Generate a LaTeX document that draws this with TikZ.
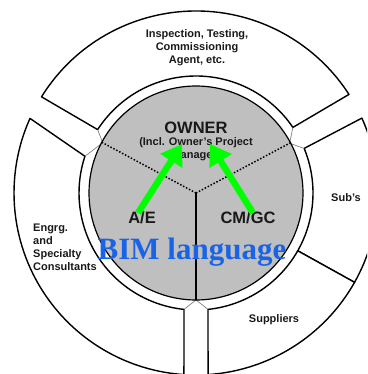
\documentclass[tikz,border=0pt]{standalone}
\usepackage{fontspec}
\setmainfont{Liberation Sans}
\newfontfamily\bimserif{Liberation Serif}
\usetikzlibrary{arrows.meta}
\definecolor{discgray}{gray}{0.75}
\definecolor{bimblue}{RGB}{25,100,230}
\definecolor{arrgreen}{RGB}{0,255,0}
\begin{document}
\begin{tikzpicture}[x=1pt,y=1pt,
  seg/.style={draw=black, line width=1.4pt, fill=white, line join=round},
  vline/.style={draw=black!55, line width=0.6pt},
  dotline/.style={draw=black, line width=1.5pt, dash pattern=on 1.5pt off 1.8pt},
  lab/.style={font=\bfseries\fontsize{11}{13}\selectfont, align=center, inner sep=0pt, text=black!90},
  big/.style={font=\bfseries\fontsize{16.5}{19}\selectfont, inner sep=0pt, text=black!90},
  garrow/.style={draw=arrgreen, line width=6.5pt, -{Triangle[length=20pt,width=25pt]}},
]
\useasboundingbox (0,0) rectangle (367,374);
\clip (0,0) rectangle (367,374);
\fill[white] (0,0) rectangle (367,374);
\coordinate (C) at (196,181);
\begin{scope}[shift={(196,181)}]
  % outer segments
  \path[seg] (147.2:117pt) -- (148.1:182pt) arc[start angle=148.1, end angle=32.8, radius=182pt]
     -- (34.1:117pt) arc[start angle=34.1, end angle=147.2, radius=117pt] -- cycle;
  \path[seg] (22.4:117pt) -- (24.3:182pt) arc[start angle=24.3, end angle=-29.4, radius=182pt]
     -- (-29.6:117pt) arc[start angle=-29.6, end angle=22.4, radius=117pt] -- cycle;
  \path[seg] (-29.6:117pt) -- (-29.4:182pt) arc[start angle=-29.4, end angle=-86.2, radius=182pt]
     -- (-84.1:117pt) arc[start angle=-84.1, end angle=-29.6, radius=117pt] -- cycle;
  \path[seg] (161.7:117pt) -- (155.8:182pt) arc[start angle=155.8, end angle=266.2, radius=182pt]
     -- (264.1:117pt) arc[start angle=264.1, end angle=161.7, radius=117pt] -- cycle;
  % gap lines
  \draw[vline] (147.2:117pt) -- (151.7:106pt) -- (161.7:117pt);
  \draw[vline] (34.1:117pt) -- (28:106pt) -- (22.4:117pt);
  \draw[vline] (264.1:117pt) -- (270:107pt) -- (275.9:117pt);
  % central disc
  \draw[fill=discgray, line width=1.2pt] (0,0) circle[radius=107pt];
  \coordinate (dl) at (151.7:107pt);
  \coordinate (dr) at (28:107pt);
  \coordinate (db) at (270:107pt);
  \draw[dotline] (0,0) -- (dl);
  \draw[dotline] (0,0) -- (dr);
  \draw[line width=1.6pt] (0,0) -- (db);
\end{scope}
% labels
\node[lab] (insp) at (197,326) {Inspection, Testing,\\Commissioning\\Agent, etc.};
\node[big] (owner) at (196,246.5) {OWNER};
\node[lab] (opm) at (196,225) {(Incl. Owner's Project\\Manager)};
\node[big] (ae) at (142,156) {A/E};
\node[big] (cmgc) at (248,156) {CM/GC};
\node[lab] (subs) at (346,176) {Sub's};
\node[lab, align=left, anchor=north west] (engrg) at (33,150) {Engrg.\\and\\Specialty\\Consultants};
\node[lab] (supp) at (274,54) {Suppliers};
% arrows
\coordinate (aeTail) at (138,161);
\coordinate (tipL) at (182,230);
\coordinate (cmTail) at (253,161);
\coordinate (tipR) at (210,230);
\draw[garrow] (aeTail) -- (tipL);
\draw[garrow] (cmTail) -- (tipR);
% BIM
\node[font=\bimserif\bfseries\fontsize{31}{31}\selectfont, text=bimblue, inner sep=0pt, anchor=base] (bim) at (192,114) {BIM language};
\end{tikzpicture}
\end{document}
